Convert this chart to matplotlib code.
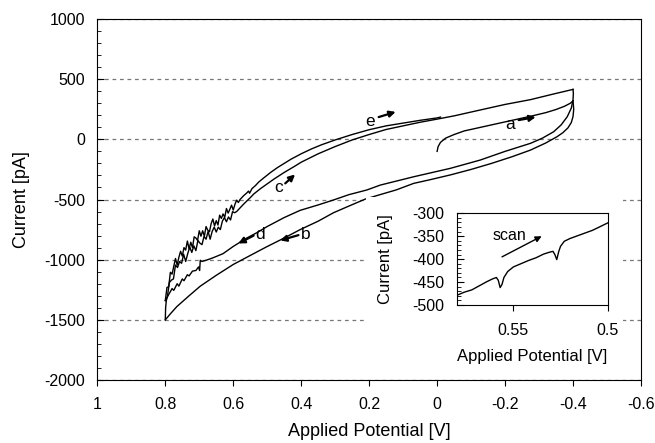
import matplotlib
matplotlib.use('Agg')
import matplotlib.pyplot as plt
from matplotlib.patches import Rectangle
from matplotlib.ticker import MultipleLocator

plt.rcParams['font.family'] = ['Liberation Sans', 'DejaVu Sans']
plt.rcParams['axes.unicode_minus'] = False

# scan a: 0 V -> -0.4 V
a_V = [0.000, -0.003, -0.010, -0.025, -0.050, -0.080, -0.120, -0.160, -0.200,
       -0.240, -0.280, -0.320, -0.350, -0.375, -0.392, -0.400]
a_I = [-100, -60, -25, 10, 40, 70, 95, 120, 145, 170, 195, 222, 248, 275, 300, 320]

# scan b: -0.4 V -> 0.8 V (outer lower branch)
b_V = [-0.400, -0.402, -0.400, -0.395, -0.385, -0.370, -0.353, -0.320, -0.275, -0.220,
       -0.160, -0.100, -0.040, 0.020, 0.069, 0.120, 0.172, 0.211, 0.260, 0.305,
       0.350, 0.403, 0.450, 0.501, 0.550, 0.600, 0.650, 0.697, 0.730, 0.766, 0.785, 0.800]
b_I = [320, 250, 190, 140, 95, 55, 22, -30, -89, -145,
       -200, -250, -295, -335, -366, -420, -463, -496, -555, -610,
       -680, -750, -820, -892, -965, -1040, -1130, -1220, -1300, -1390, -1450, -1500]

# scan c: 0.8 V -> -0.4 V
c_V = [0.800, 0.799, 0.797, 0.794, 0.788, 0.782, 0.776, 0.770, 0.764, 0.758, 0.752,
       0.746, 0.740, 0.734, 0.728, 0.722, 0.716, 0.710, 0.704, 0.698, 0.692, 0.686,
       0.680, 0.674, 0.668, 0.662, 0.656, 0.650, 0.644, 0.638, 0.632, 0.626, 0.620,
       0.614, 0.608, 0.602, 0.596, 0.590, 0.580, 0.570, 0.560, 0.550, 0.540, 0.520,
       0.500, 0.480, 0.450, 0.420, 0.400, 0.350, 0.300, 0.250, 0.200, 0.150, 0.100,
       0.050, 0.000, -0.050, -0.127, -0.200, -0.275, -0.340, -0.400]
c_I = [-1500, -1400, -1340, -1310, -1190, -1170, -1160, -1045, -1065, -1015, -1030,
       -955, -1015, -950, -895, -940, -885, -925, -840, -863, -875, -807,
       -830, -765, -830, -765, -730, -770, -730, -750, -680, -650, -685,
       -645, -670, -601, -610, -600, -570, -540, -512, -485, -455, -410,
       -370, -330, -275, -225, -190, -120, -60, -5, 40, 82, 112,
       142, 168, 195, 244, 290, 330, 375, 415]

# scan d: -0.4 V -> 0.8 V (inner lower branch)
d_V = [-0.400, -0.401, -0.400, -0.395, -0.383, -0.365, -0.343, -0.310, -0.275, -0.200,
       -0.127, -0.039, 0.069, 0.167, 0.207, 0.260, 0.305, 0.350, 0.403, 0.450,
       0.501, 0.530, 0.560, 0.600, 0.630, 0.660, 0.680, 0.692, 0.697, 0.699, 0.702,
       0.710, 0.720, 0.730, 0.735, 0.745, 0.750, 0.760, 0.765, 0.775, 0.780, 0.790, 0.800]
d_I = [415, 380, 330, 260, 188, 120, 63, 10, -33, -100,
       -172, -241, -311, -380, -421, -460, -504, -545, -590, -650,
       -726, -775, -820, -890, -950, -985, -1005, -1015, -1005, -1090, -1060,
       -1090, -1095, -1135, -1125, -1175, -1160, -1220, -1200, -1255, -1240, -1290, -1340]

# scan e: 0.8 V -> 0 V
e_V = [0.800, 0.795, 0.790, 0.785, 0.780, 0.775, 0.770, 0.765, 0.760, 0.755, 0.750,
       0.745, 0.740, 0.735, 0.730, 0.725, 0.720, 0.715, 0.710, 0.705, 0.700, 0.695,
       0.690, 0.685, 0.680, 0.675, 0.670, 0.665, 0.660, 0.655, 0.650, 0.645, 0.640,
       0.635, 0.630, 0.625, 0.620, 0.615, 0.610, 0.605, 0.600, 0.595, 0.590, 0.585,
       0.580, 0.570, 0.560, 0.555, 0.552, 0.545, 0.535, 0.525, 0.510, 0.490, 0.470,
       0.450, 0.430, 0.400, 0.370, 0.340, 0.300, 0.250, 0.200, 0.150, 0.100, 0.050,
       0.000, -0.010]
e_I = [-1340, -1230, -1225, -1105, -1120, -1055, -990, -1045, -980, -930, -970,
       -900, -920, -845, -910, -855, -900, -810, -820, -840, -760, -805,
       -760, -805, -725, -755, -768, -700, -662, -720, -675, -712, -630,
       -657, -620, -647, -575, -613, -581, -547, -588, -540, -505, -525,
       -500, -470, -445, -430, -448, -410, -385, -355, -320, -275, -235,
       -200, -165, -120, -80, -45, -5, 40, 80, 112, 135, 158,
       178, 185]

# inset: forward scan detail
in_V = [0.580, 0.576, 0.572, 0.568, 0.564, 0.561, 0.559, 0.558, 0.557, 0.556, 0.555,
        0.553, 0.550, 0.546, 0.542, 0.538, 0.534, 0.531, 0.529, 0.528, 0.527, 0.526,
        0.525, 0.523, 0.520, 0.516, 0.512, 0.508, 0.504, 0.500]
in_I = [-479, -472, -467, -458, -449, -443, -440, -446, -462, -455, -440,
        -427, -417, -410, -403, -397, -389, -385, -383, -390, -401, -384,
        -372, -361, -355, -349, -343, -337, -329, -321]

x_ticks = [1, 0.8, 0.6, 0.4, 0.2, 0, -0.2, -0.4, -0.6]
x_tick_labels = ['1', '0.8', '0.6', '0.4', '0.2', '0', '-0.2', '-0.4', '-0.6']
in_x_ticks = [0.55, 0.5]
in_x_tick_labels = ['0.55', '0.5']

fig = plt.figure(figsize=(6.55, 4.43), dpi=100)
ax = fig.add_axes([0.1486, 0.1422, 0.83, 0.8149])

for V, I in [(a_V, a_I), (b_V, b_I), (c_V, c_I), (d_V, d_I), (e_V, e_I)]:
    ax.plot(V, I, color='k', lw=1.0)

ax.set_xlim(1, -0.6)
ax.set_ylim(-2000, 1000)
ax.set_xticks(x_ticks)
ax.set_xticklabels(x_tick_labels)
ax.yaxis.set_major_locator(MultipleLocator(500))
ax.yaxis.set_minor_locator(MultipleLocator(100))
ax.tick_params(axis='y', which='both', direction='in', labelsize=11.5, pad=9)
ax.tick_params(axis='y', which='major', length=5)
ax.tick_params(axis='y', which='minor', length=3)
ax.tick_params(axis='x', direction='out', length=4, labelsize=11.5, pad=8)
ax.grid(axis='y', color='#777777', lw=0.9, ls=(0, (3, 3)))
ax.set_xlabel('Applied Potential [V]', fontsize=13, labelpad=8)
ax.set_ylabel('Current [pA]', fontsize=13, labelpad=10)

arrow = dict(arrowstyle='-|>', color='k', lw=1.6, mutation_scale=9, shrinkA=0, shrinkB=0)
fs = 12.5
ax.text(-0.215, 120, 'a', fontsize=fs, ha='center', va='center')
ax.annotate('', xy=(-0.29, 185), xytext=(-0.24, 160), arrowprops=arrow)
ax.text(0.197, 150, 'e', fontsize=fs, ha='center', va='center')
ax.annotate('', xy=(0.122, 228), xytext=(0.172, 185), arrowprops=arrow)
ax.text(0.467, -400, 'c', fontsize=fs, ha='center', va='center')
ax.annotate('', xy=(0.418, -292), xytext=(0.447, -366), arrowprops=arrow)
ax.text(0.521, -790, 'd', fontsize=fs, ha='center', va='center')
ax.annotate('', xy=(0.585, -865), xytext=(0.54, -800), arrowprops=arrow)
ax.text(0.388, -790, 'b', fontsize=fs, ha='center', va='center')
ax.annotate('', xy=(0.462, -840), xytext=(0.408, -796), arrowprops=arrow)

# white area behind the inset and its labels
fig.add_artist(Rectangle((0.5588, 0.1603), 0.3922, 0.395, transform=fig.transFigure,
                         facecolor='white', edgecolor='none', zorder=1))

axin = fig.add_axes([0.6973, 0.3115, 0.2305, 0.207], zorder=2)
axin.plot(in_V, in_I, color='k', lw=1.0)
axin.set_xlim(0.58, 0.5)
axin.set_ylim(-500, -300)
axin.set_xticks(in_x_ticks)
axin.set_xticklabels(in_x_tick_labels)
axin.yaxis.set_major_locator(MultipleLocator(50))
axin.yaxis.set_minor_locator(MultipleLocator(10))
axin.tick_params(axis='y', which='both', direction='in', labelsize=11.5, pad=9)
axin.tick_params(axis='y', which='major', length=5)
axin.tick_params(axis='y', which='minor', length=3)
axin.tick_params(axis='x', direction='out', length=4, labelsize=11.5, pad=9)
axin.set_xlabel('Applied Potential [V]', fontsize=12, labelpad=8)
axin.set_ylabel('Current [pA]', fontsize=12, labelpad=14)
axin.text(0.552, -348, 'scan', fontsize=11.5, ha='center', va='center')
axin.annotate('', xy=(0.535, -350), xytext=(0.556, -395),
              arrowprops=dict(arrowstyle='-|>', color='k', lw=1.0, mutation_scale=9,
                              shrinkA=0, shrinkB=0))

fig.savefig('out.png', dpi=100)
